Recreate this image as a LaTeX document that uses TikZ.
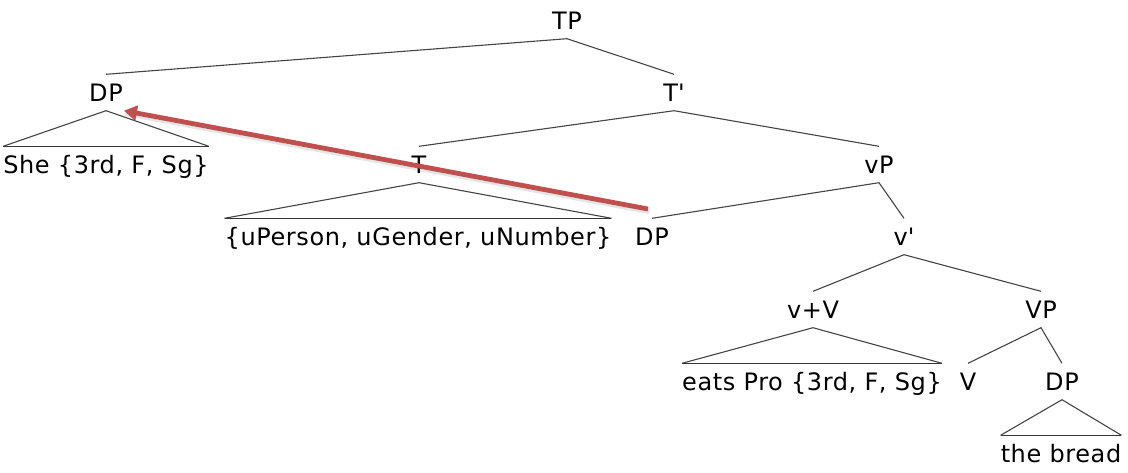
\documentclass[tikz,border=0pt]{standalone}
\usepackage{fontspec}
\setmainfont[LetterSpace=2.5]{DejaVu Sans}
\usetikzlibrary{arrows.meta}
\definecolor{edgegray}{HTML}{444444}
\definecolor{movered}{HTML}{C0504D}
\begin{document}
\begin{tikzpicture}[x=1pt,y=-1pt,
  lbl/.style={anchor=base, inner xsep=0pt, inner ysep=9.5pt, text height=17pt, text depth=0pt,
    font=\fontsize{24}{24}\selectfont},
  edge/.style={draw=edgegray, line width=1.1pt},
  roofbase/.style={draw=edgegray!80!black, line width=1.4pt},
  movearrow/.style={draw=movered, line width=4.8pt, -{Triangle[length=13pt,width=15pt]}},
  moveshadow/.style={draw=black, opacity=0.10, line width=5.5pt}
]
\useasboundingbox (0,0) rectangle (1128,472);
% levels (baselines)
\node[lbl] (TP)   at (567,29)  {TP};
\node[lbl] (DPa)  at (106,101) {DP};
\node[lbl] (Tbar) at (674,101) {T\textquotesingle};
\node[lbl] (She)  at (106,173) {She \{3rd, F, Sg\}};
\node[lbl] (T)    at (419,173) {T};
\node[lbl] (vP)   at (879,173) {vP};
\node[lbl] (uF)   at (418,245) {\{uPerson, uGender, uNumber\}};
\node[lbl] (DPb)  at (652,245) {DP};
\node[lbl] (vbar) at (904,245) {v\textquotesingle};
\node[lbl] (vV)   at (813,318) {v+V};
\node[lbl] (VP)   at (1041,318) {VP};
\node[lbl] (eats) at (812,390) {eats Pro \{3rd, F, Sg\}};
\node[lbl] (V)    at (968,390) {V};
\node[lbl] (DPc)  at (1062,390) {DP};
\node[lbl] (bread) at (1061,462) {the bread};
% branches
\draw[edge] (DPa.north) -- (TP.south) -- (Tbar.north);
\draw[edge] (T.north) -- (Tbar.south) -- (vP.north);
\draw[edge] (DPb.north) -- (vP.south) -- (vbar.north);
\draw[edge] (vV.north) -- (vbar.south) -- (VP.north);
\draw[edge] (V.north) -- (VP.south) -- (DPc.north);
% roofs
\draw[edge] (She.north west) -- (DPa.south) -- (She.north east);
\draw[roofbase] (She.north west) -- (She.north east);
\draw[edge] (uF.north west) -- (T.south) -- (uF.north east);
\draw[roofbase] (uF.north west) -- (uF.north east);
\draw[edge] (eats.north west) -- (vV.south) -- (eats.north east);
\draw[roofbase] (eats.north west) -- (eats.north east);
\draw[edge] (bread.north west) -- (DPc.south) -- (bread.north east);
\draw[roofbase] (bread.north west) -- (bread.north east);
% movement arrow
\coordinate (mvstart) at (648,209);
\coordinate (mvend) at ([xshift=1pt]DPa.south east);
\draw[moveshadow] ([shift={(1.5,2.5)}]mvstart) -- ([shift={(1.5,2.5)}]mvend);
\draw[movearrow] (mvstart) -- (mvend);
\end{tikzpicture}
\end{document}
